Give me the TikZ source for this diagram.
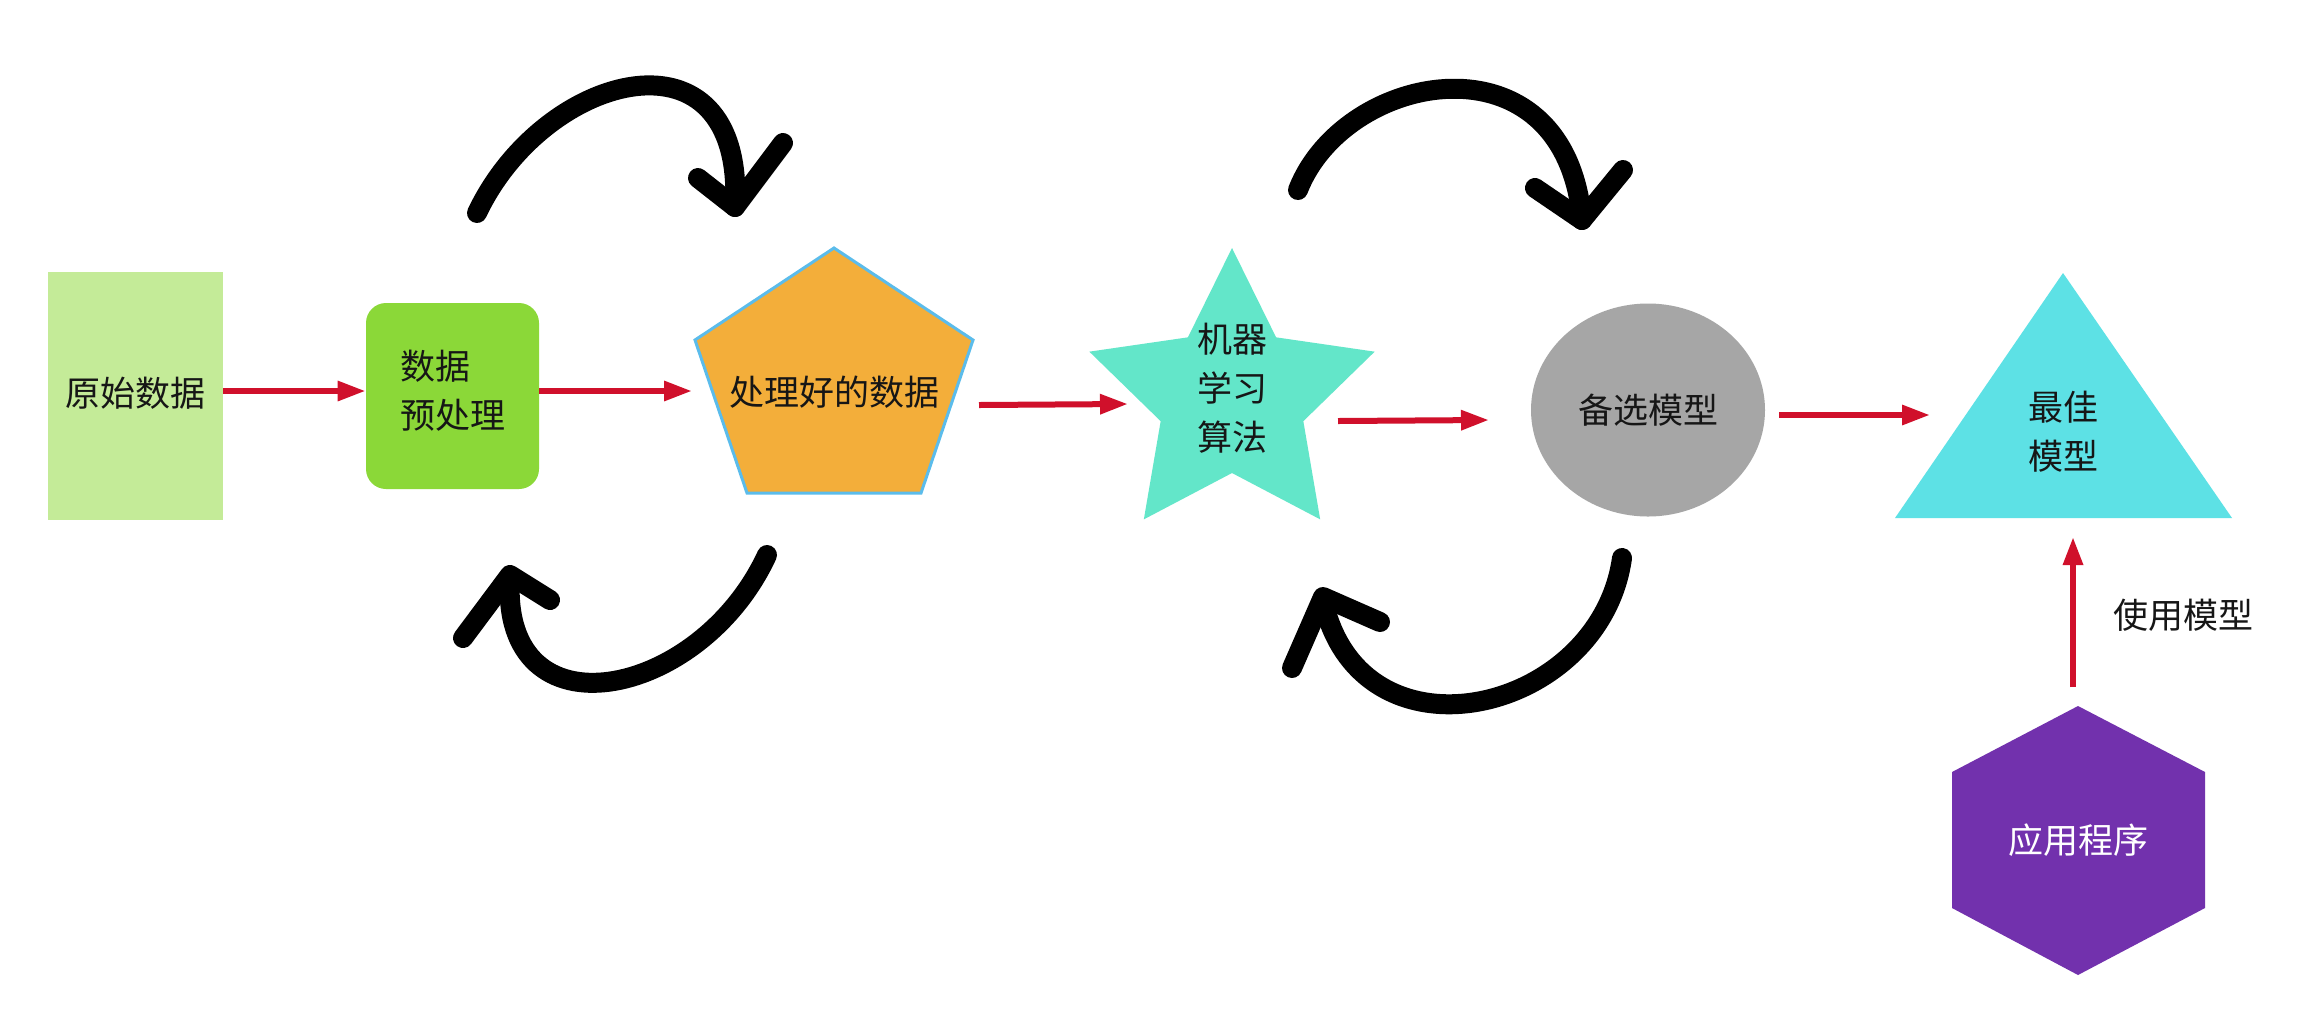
\documentclass[tikz,border=0pt]{standalone}
\usepackage{fontspec}
\setmainfont{Noto Sans CJK SC}
\usetikzlibrary{arrows.meta,shapes.geometric}
\definecolor{rawc}{HTML}{C4EB98}
\definecolor{prec}{HTML}{8BD838}
\definecolor{pentc}{HTML}{F3AE3A}
\definecolor{pentb}{HTML}{5BBCEB}
\definecolor{starc}{HTML}{63E6C9}
\definecolor{ellc}{HTML}{A6A6A6}
\definecolor{tric}{HTML}{5DE1E5}
\definecolor{hexc}{HTML}{7231AD}
\definecolor{redc}{HTML}{D0102B}
\definecolor{txt}{HTML}{161616}
\begin{document}
\begin{tikzpicture}[x=0.5pt,y=-0.5pt,
  lbl/.style={font=\fontsize{17.5}{24.5}\selectfont, text=txt, inner sep=0pt, align=center},
  flow/.style={draw=redc, line width=3pt, -{Triangle[length=14pt,width=9.5pt]}},
  cyc/.style={draw=black, line width=10pt, line cap=round, line join=round}
]
\useasboundingbox[fill=white] (0,0) rectangle (2308,1024);

% shapes
\node[fill=rawc, minimum width=87.5pt, minimum height=124pt, inner sep=0pt] (raw) at (135.5,396) {};
\node[fill=prec, rounded corners=10pt, minimum width=86.5pt, minimum height=93pt, inner sep=0pt] (pre) at (452.5,396) {};
\filldraw[fill=pentc, draw=pentb, line width=1.5pt] (834,248) -- (973,340) -- (921,493) -- (747,493) -- (695,340) -- cycle;
\fill[starc, shift={(1232,398)}] (-90:150) -- (-54:75) -- (-18:150) -- (18:75) -- (54:150) -- (90:75) -- (126:150) -- (162:75) -- (198:150) -- (234:75) -- cycle;
\node[ellipse, fill=ellc, minimum width=117pt, minimum height=106.5pt, inner sep=0pt] (cand) at (1648,410) {};
\fill[tric] (2063,273) -- (2232,518) -- (1895,518) -- cycle;
\fill[hexc] (2078,706) -- (2205,772) -- (2205,908) -- (2078,975) -- (1952,908) -- (1952,772) -- cycle;

% texts
\node[lbl] (rawtxt) at (135,393) {原始数据};
\node[lbl, anchor=west, align=left] (pretxt) at (400,390.5) {数据\\预处理};
\node[lbl] (pent) at (834,392) {处理好的数据};
\node[lbl] (algo) at (1232,388) {机器\\学习\\算法};
\node[lbl] (candtxt) at (1648,410) {备选模型};
\node[lbl] (best) at (2063,431.5) {最佳\\模型};
\node[lbl, text=white] (app) at (2078,840) {应用程序};
\node[lbl] (use) at (2183,615) {使用模型};

% connector end points
\coordinate (pentin) at (692,391);
\coordinate (pentout) at (979,405);
\coordinate (algoin) at (1128,404);
\coordinate (algoout) at (1338,421);
\coordinate (candin) at (1489,420);
\coordinate (candout) at (1779,415);
\coordinate (bestin) at (1930,415);
\coordinate (bestbot) at (2073,537);
\coordinate (apptop) at (2073,687);

% red connectors
\draw[flow] ([yshift=2.5pt]raw.east) -- ([yshift=2.5pt]pre.west);
\draw[flow] ([yshift=2.5pt]pre.east) -- (pentin);
\draw[flow] (pentout) -- (algoin);
\draw[flow] (algoout) -- (candin);
\draw[flow] (candout) -- (bestin);
\draw[flow] (apptop) -- (bestbot);

% black cycle arrows
\draw[cyc] (477,213) .. controls (545,70) and (745,20) .. (735,207);
\draw[cyc] (698,178) -- (735,207) -- (783,143);

\draw[cyc] (767,555) .. controls (700,700) and (500,740) .. (510,578);
\draw[cyc] (463,638) -- (510,575) -- (550,600);

\draw[cyc] (1298,190) .. controls (1345,70) and (1565,30) .. (1582,220);
\draw[cyc] (1535,188) -- (1582,220) -- (1623,170);

\draw[cyc] (1622,558) .. controls (1600,715) and (1360,770) .. (1323,600);
\draw[cyc] (1292,668) -- (1323,597) -- (1380,622);
\end{tikzpicture}
\end{document}
